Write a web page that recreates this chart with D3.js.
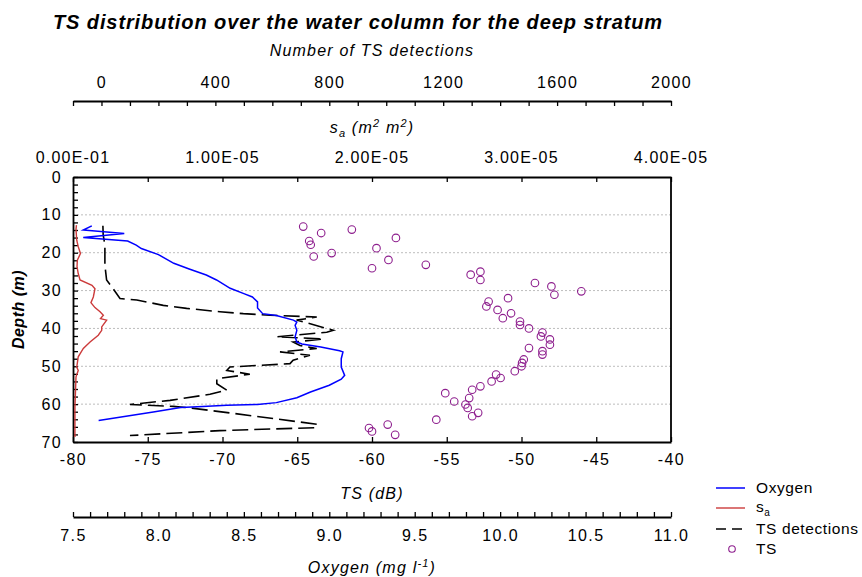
<!DOCTYPE html>
<html>
<head>
<meta charset="utf-8">
<script src="https://cdn.jsdelivr.net/npm/d3@7/dist/d3.min.js"></script>
<style>
  body { margin: 0; background: #fff; }
  text { font-family: "Liberation Sans", Arial, sans-serif; fill: #000; }
</style>
</head>
<body>
<svg width="862" height="577"></svg>
<script>
// depth (m) of each series
const oxyDepth = [12.9, 14.0, 14.9, 16.0, 16.9, 18.0, 18.9, 20.5, 22.8, 24.3, 25.9, 27.2, 29.4, 30.8, 31.7, 33.0, 34.6, 36.1, 36.6, 37.8, 38.3, 39.2, 40.5, 42.2, 43.6, 44.1, 44.9, 45.9, 46.2, 48.0, 50.2, 52.4, 53.4, 55.0, 56.8, 58.3, 59.6, 60.1, 60.3, 60.6, 60.9, 62.1, 64.3];
const oxyValue = [7.61, 7.56, 7.80, 7.56, 7.82, 7.87, 7.90, 8.00, 8.09, 8.18, 8.28, 8.34, 8.42, 8.50, 8.55, 8.58, 8.58, 8.61, 8.69, 8.79, 8.81, 8.80, 8.81, 8.80, 8.81, 8.84, 8.95, 9.06, 9.08, 9.07, 9.07, 9.09, 9.07, 9.00, 8.89, 8.81, 8.69, 8.58, 8.40, 8.26, 8.13, 7.97, 7.65];

const saDepth = [12.7, 13.8, 16.7, 18.4, 20.2, 22.0, 23.7, 25.5, 27.2, 28.6, 29.5, 31.7, 33.2, 34.5, 35.6, 36.5, 37.4, 37.8, 39.6, 40.5, 41.8, 43.6, 45.3, 47.5, 50.2, 51.1, 52.8, 60.8, 68.7];
const saValue = [2.3e-7, 2.0e-7, 2.5e-7, 3.5e-7, 5.0e-7, 2.9e-7, 2.7e-7, 3.5e-7, 4.7e-7, 1.27e-6, 1.47e-6, 1.36e-6, 1.20e-6, 1.47e-6, 1.81e-6, 2.03e-6, 1.84e-6, 2.25e-6, 1.92e-6, 1.92e-6, 1.69e-6, 1.14e-6, 6.9e-7, 3.5e-7, 2.5e-7, 3.5e-7, 2.0e-7, 1.3e-7, 1.3e-7];

const detDepth = [12.9, 15.3, 18.0, 23.3, 27.2, 29.0, 32.1, 32.5, 33.9, 34.7, 35.6, 36.1, 36.5, 37.0, 37.8, 38.5, 40.5, 41.0, 42.2, 42.8, 43.6, 44.5, 45.3, 46.2, 47.1, 48.4, 49.3, 50.2, 51.1, 52.1, 53.3, 54.6, 56.3, 57.4, 59.0, 60.1, 60.6, 61.0, 62.1, 65.3, 66.2, 67.0, 68.3];
const detCount = [5, 6, 12, 12, 18, 36, 65, 124, 217, 299, 416, 498, 592, 756, 685, 720, 814, 791, 615, 779, 673, 697, 756, 627, 732, 673, 662, 451, 440, 521, 405, 405, 440, 381, 241, 100, 252, 311, 428, 756, 756, 416, 100];

const tsDepth = [13.1, 14.8, 13.9, 16.9, 17.9, 21.0, 20.1, 16.1, 18.8, 21.9, 24.1, 23.2, 25.8, 25.0, 27.2, 28.0, 28.9, 31.1, 30.2, 32.0, 32.9, 34.2, 35.1, 36.0, 37.3, 38.2, 39.1, 40.0, 41.1, 42.1, 42.9, 44.3, 45.2, 46.0, 46.9, 48.2, 49.1, 50.0, 51.3, 52.2, 53.1, 54.0, 55.3, 56.2, 57.1, 58.4, 59.3, 60.1, 61.0, 62.3, 63.2, 64.1, 65.4, 66.3, 67.2, 68.1];
const tsValue = [-64.6, -63.4, -61.35, -64.2, -64.1, -63.9, -62.7, -58.4, -59.7, -58.9, -60.0, -56.4, -53.4, -52.75, -52.75, -49.1, -48.0, -47.8, -46.0, -50.9, -52.2, -52.35, -51.6, -50.7, -51.25, -50.1, -50.1, -49.5, -48.6, -48.7, -48.1, -48.1, -49.5, -48.6, -48.6, -49.85, -49.96, -50.0, -50.45, -51.7, -51.4, -52.0, -52.75, -53.3, -55.1, -53.5, -54.5, -53.75, -53.6, -52.9, -53.3, -55.7, -58.95, -60.2, -60.0, -58.45];

const depthTicks = [0, 10, 20, 30, 40, 50, 60, 70];
const tsTicks = [-80, -75, -70, -65, -60, -55, -50, -45, -40];
const countTicks = [0, 400, 800, 1200, 1600, 2000];
const oxyTicks = [7.5, 8.0, 8.5, 9.0, 9.5, 10.0, 10.5, 11.0];
const saTicks = [0, 1e-5, 2e-5, 3e-5, 4e-5];
const saTickLabels = ["0.00E-01", "1.00E-05", "2.00E-05", "3.00E-05", "4.00E-05"];

const svg = d3.select('svg');
const plotLeft = 73, plotRight = 671, plotTop = 177, plotBottom = 442;

const y = d3.scaleLinear().domain([0, 70]).range([plotTop, plotBottom]);
const xTS = d3.scaleLinear().domain([-80, -40]).range([plotLeft, plotRight]);
const xSa = d3.scaleLinear().domain([0, 4e-5]).range([plotLeft, plotRight]);
const xN = d3.scaleLinear().domain([-100, 2000]).range([plotLeft, plotRight]);
const xO = d3.scaleLinear().domain([7.5, 11]).range([plotLeft, plotRight]);

// title and axis titles
svg.append('text')
  .attr('x', 358).attr('y', 29)
  .attr('text-anchor', 'middle')
  .style('font-size', '20px').style('font-weight', 'bold').style('font-style', 'italic')
  .style('letter-spacing', '0.9px')
  .text('TS distribution over the water column for the deep stratum');

function axisTitle(x, yPos) {
  return svg.append('text')
    .attr('x', x).attr('y', yPos)
    .attr('text-anchor', 'middle')
    .style('font-size', '16px').style('font-style', 'italic')
    .style('letter-spacing', '1.2px');
}

axisTitle(372, 56).text('Number of TS detections');

const saTitle = axisTitle(372, 133);
saTitle.append('tspan').text('s');
saTitle.append('tspan').attr('dy', 4).style('font-size', '11px').text('a');
saTitle.append('tspan').attr('dy', -4).text(' (m');
saTitle.append('tspan').attr('dy', -6).style('font-size', '11px').text('2');
saTitle.append('tspan').attr('dy', 6).text(' m');
saTitle.append('tspan').attr('dy', -6).style('font-size', '11px').text('2');
saTitle.append('tspan').attr('dy', 6).text(')');

axisTitle(372, 499).text('TS (dB)');

const oxTitle = axisTitle(372, 573);
oxTitle.append('tspan').text('Oxygen (mg l');
oxTitle.append('tspan').attr('dy', -6).style('font-size', '11px').text('-1');
oxTitle.append('tspan').attr('dy', 6).text(')');

svg.append('text')
  .attr('transform', 'translate(24,' + ((plotTop + plotBottom) / 2) + ') rotate(-90)')
  .attr('text-anchor', 'middle')
  .style('font-size', '16px').style('font-style', 'italic').style('font-weight', 'bold')
  .style('letter-spacing', '0.5px')
  .text('Depth (m)');

// gridlines
svg.append('g')
  .selectAll('line')
  .data(depthTicks.filter(d => d > 0 && d < 70))
  .enter()
  .append('line')
  .attr('x1', plotLeft).attr('x2', plotRight)
  .attr('y1', d => y(d)).attr('y2', d => y(d))
  .attr('stroke', '#bdbdbd')
  .attr('stroke-dasharray', '2,2');

function styleAxis(g) {
  g.select('.domain').attr('stroke', '#000').attr('stroke-width', 1.8);
  g.selectAll('.tick line').attr('stroke', '#000').attr('stroke-width', 1.3);
  g.selectAll('.tick text')
    .attr('font-family', null)
    .style('font-size', '16px')
    .style('letter-spacing', '1.4px');
}

// number of detections axis
svg.append('g')
  .attr('transform', 'translate(0,101)')
  .call(d3.axisTop(xN)
    .tickValues(d3.range(-100, 2001, 100))
    .tickSizeInner(-5).tickSizeOuter(0).tickPadding(13)
    .tickFormat(d => countTicks.includes(d) ? String(d) : ''))
  .call(styleAxis);

// s_a tick labels
svg.append('g')
  .selectAll('text')
  .data(saTicks)
  .enter()
  .append('text')
  .attr('x', d => xSa(d)).attr('y', 163)
  .attr('text-anchor', 'middle')
  .style('font-size', '16px')
  .style('letter-spacing', '1.2px')
  .text((d, i) => saTickLabels[i]);

// frame axes
svg.append('g')
  .attr('transform', 'translate(0,' + plotTop + ')')
  .call(d3.axisTop(xTS).tickValues(tsTicks).tickSizeInner(-5).tickSizeOuter(0).tickFormat(''))
  .call(styleAxis);

svg.append('g')
  .attr('transform', 'translate(0,' + plotBottom + ')')
  .call(d3.axisBottom(xTS).tickValues(tsTicks).tickSizeInner(-5).tickSizeOuter(0).tickPadding(12)
    .tickFormat(d => String(d)))
  .call(styleAxis);

svg.append('g')
  .attr('transform', 'translate(' + plotLeft + ',0)')
  .call(d3.axisLeft(y)
    .tickValues(d3.range(0, 71, 2))
    .tickSizeInner(-5).tickSizeOuter(0).tickPadding(11)
    .tickFormat(d => depthTicks.includes(d) ? String(d) : ''))
  .call(styleAxis);

svg.append('line')
  .attr('x1', plotRight).attr('x2', plotRight)
  .attr('y1', plotTop).attr('y2', plotBottom)
  .attr('stroke', '#000').attr('stroke-width', 1.8);

// oxygen axis
svg.append('g')
  .attr('transform', 'translate(0,517)')
  .call(d3.axisBottom(xO)
    .tickValues(d3.range(75, 111, 1).map(v => v / 10))
    .tickSizeInner(-5).tickSizeOuter(0).tickPadding(13)
    .tickFormat(d => oxyTicks.includes(d) ? d.toFixed(1) : ''))
  .call(styleAxis);

// series
const lineDet = d3.line().x(d => xN(d[1])).y(d => y(d[0]));
svg.append('path')
  .attr('d', lineDet(d3.zip(detDepth, detCount)))
  .attr('fill', 'none')
  .attr('stroke', '#000')
  .attr('stroke-width', 1.6)
  .attr('stroke-dasharray', '16,6');

const lineSa = d3.line().x(d => xSa(d[1])).y(d => y(d[0]));
svg.append('path')
  .attr('d', lineSa(d3.zip(saDepth, saValue)))
  .attr('fill', 'none')
  .attr('stroke', '#cc3b3b')
  .attr('stroke-width', 1.4);

const lineOxy = d3.line().x(d => xO(d[1])).y(d => y(d[0]));
svg.append('path')
  .attr('d', lineOxy(d3.zip(oxyDepth, oxyValue)))
  .attr('fill', 'none')
  .attr('stroke', '#0000ff')
  .attr('stroke-width', 1.5);

svg.append('g')
  .selectAll('circle')
  .data(d3.zip(tsDepth, tsValue))
  .enter()
  .append('circle')
  .attr('cx', d => xTS(d[1]))
  .attr('cy', d => y(d[0]))
  .attr('r', 3.8)
  .attr('fill', 'none')
  .attr('stroke', '#8e1f8e')
  .attr('stroke-width', 1.1);

// legend
const legend = svg.append('g');
const rows = [488, 508, 529, 549];
legend.append('line').attr('x1', 716).attr('x2', 745).attr('y1', rows[0]).attr('y2', rows[0])
  .attr('stroke', '#0000ff').attr('stroke-width', 1.5);
legend.append('line').attr('x1', 716).attr('x2', 745).attr('y1', rows[1]).attr('y2', rows[1])
  .attr('stroke', '#cc3b3b').attr('stroke-width', 1.4);
legend.append('line').attr('x1', 716).attr('x2', 742).attr('y1', rows[2]).attr('y2', rows[2])
  .attr('stroke', '#000').attr('stroke-width', 1.6).attr('stroke-dasharray', '10,6');
legend.append('circle').attr('cx', 732).attr('cy', rows[3]).attr('r', 3.3)
  .attr('fill', 'none').attr('stroke', '#8e1f8e').attr('stroke-width', 1.1);

function legendText(row) {
  return legend.append('text').attr('x', 756).attr('y', row + 5)
    .style('font-size', '15.5px').style('letter-spacing', '0.6px');
}
legendText(rows[0]).text('Oxygen');
const saLeg = legendText(rows[1] - 1);
saLeg.append('tspan').text('s');
saLeg.append('tspan').attr('dy', 4).style('font-size', '10px').text('a');
legendText(rows[2]).text('TS detections');
legendText(rows[3]).text('TS');
</script>
</body>
</html>
